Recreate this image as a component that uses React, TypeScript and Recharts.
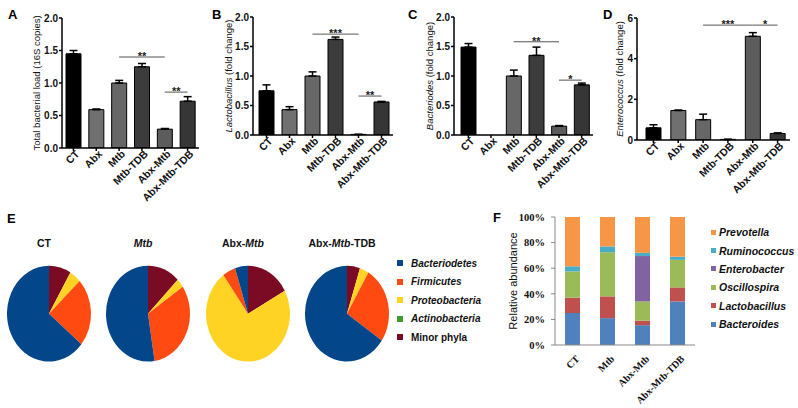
import React from "react";
import {
  BarChart,
  Bar,
  XAxis,
  YAxis,
  ErrorBar,
  Cell,
  ReferenceLine,
  PieChart,
  Pie,
} from "recharts";

const SANS = "'Liberation Sans', Arial, sans-serif";
const SERIF = "'Liberation Serif', 'Times New Roman', serif";

// panels A-D: qPCR groups
const groups = ["CT", "Abx", "Mtb", "Mtb-TDB", "Abx-Mtb", "Abx-Mtb-TDB"];
const groupFills = ["#000000", "#707070", "#676767", "#3c3c3c", "#5c5c5c", "#363636"];

const totalLoad = [1.45, 0.59, 1.0, 1.25, 0.29, 0.72];
const totalLoadErr = [0.05, 0.01, 0.04, 0.05, 0.01, 0.07];
const lactoFold = [0.75, 0.43, 1.0, 1.62, 0.01, 0.56];
const lactoErr = [0.1, 0.05, 0.07, 0.04, 0, 0.01];
const bacteroidesFold = [1.49, 0, 1.0, 1.35, 0.15, 0.85];
const bacteroidesErr = [0.06, 0, 0.1, 0.14, 0.01, 0.03];
const enteroFold = [0.6, 1.45, 1.0, 0.03, 5.1, 0.32];
const enteroErr = [0.15, 0.02, 0.27, 0, 0.18, 0.03];

type Sig = { from: string; to: string; y: number; stars: string };
const totalLoadSig: Sig[] = [
  { from: "Mtb", to: "Abx-Mtb", y: 1.4, stars: "**" },
  { from: "Abx-Mtb", to: "Abx-Mtb-TDB", y: 0.86, stars: "**" },
];
const lactoSig: Sig[] = [
  { from: "Mtb", to: "Abx-Mtb", y: 1.71, stars: "***" },
  { from: "Abx-Mtb", to: "Abx-Mtb-TDB", y: 0.66, stars: "**" },
];
const bacteroidesSig: Sig[] = [
  { from: "Mtb", to: "Abx-Mtb", y: 1.58, stars: "**" },
  { from: "Abx-Mtb", to: "Abx-Mtb-TDB", y: 0.93, stars: "*" },
];
const enteroSig: Sig[] = [
  { from: "Mtb", to: "Abx-Mtb", y: 5.65, stars: "***" },
  { from: "Abx-Mtb", to: "Abx-Mtb-TDB", y: 5.65, stars: "*" },
];

const twoTicks = [0, 0.5, 1.0, 1.5, 2.0];
const sixTicks = [0, 2, 4, 6];

// panel E: phyla pies
const phyla = ["Minor phyla", "Actinobacteria", "Proteobacteria", "Firmicutes", "Bacteriodetes"];
const phylaColors = ["#7b0a25", "#3f9b2c", "#ffd323", "#ff4a12", "#03468a"];
const pieTitles = ["CT", "Mtb", "Abx-Mtb", "Abx-Mtb-TDB"];
const ctPhyla = [8.5, 0, 4.5, 23, 64];
const mtbPhyla = [12.5, 0, 3, 32, 52.5];
const abxMtbPhyla = [17, 0, 73, 5, 5];
const abxMtbTdbPhyla = [5, 0, 3.5, 26, 65.5];
const pieCenters = [44, 143, 243, 342];

// panel F: genus stacks
const fGroups = ["CT", "Mtb", "Abx-Mtb", "Abx-Mtb-TDB"];
const genera = ["Bacteroides", "Lactobacillus", "Oscillospira", "Enterobacter", "Ruminococcus", "Prevotella"];
const generaColors = ["#4f81bd", "#c0504d", "#9bbb59", "#8064a2", "#4bacc6", "#f79646"];
const bacteroides = [25, 21, 15.5, 34];
const lactobacillus = [12, 17, 3.5, 11];
const oscillospira = [20.5, 34.5, 15, 21.5];
const enterobacter = [0, 0, 35.5, 0];
const ruminococcus = [4, 4.5, 2.5, 2.5];
const prevotella = [38.5, 23, 28, 31];
const pctTicks = [0, 20, 40, 60, 80, 100];

const SlantTick = (props: any) => {
  const { x, y, payload, family, size, dx = 4 } = props;
  const ax = x + dx;
  return (
    <text
      x={ax}
      y={y}
      dy="0.35em"
      textAnchor="end"
      transform={`rotate(-45 ${ax} ${y})`}
      fontFamily={family}
      fontSize={size}
      fontWeight="bold"
      fill="#111"
    >
      {payload.value}
    </text>
  );
};

const sideLabel = (italic: string, rest: string, gap: number, size: number) => (props: any) => {
  const vb = props.viewBox || { x: 0, y: 0, width: 0, height: 0 };
  const cx = vb.x + vb.width - gap;
  const cy = vb.y + vb.height / 2;
  return (
    <text
      x={cx}
      y={cy}
      transform={`rotate(-90 ${cx} ${cy})`}
      textAnchor="middle"
      dominantBaseline="central"
      fontFamily={SANS}
      fontSize={size}
      fill="#111"
    >
      {italic && <tspan fontStyle="italic">{italic}</tspan>}
      <tspan>{rest}</tspan>
    </text>
  );
};

type PanelProps = {
  values: number[];
  errors: number[];
  sig: Sig[];
  domain: [number, number];
  ticks: number[];
  decimals: number;
  italic: string;
  rest: string;
  left: number;
  width: number;
  axisX: number;
  plotTop: number;
  plotBottom: number;
  plotRight: number;
  padLeft: number;
  labelGap: number;
};

function FoldPanel(p: PanelProps) {
  const height = 205;
  const rows = groups.map((g, i) => ({ name: g, value: p.values[i], err: [0, p.errors[i]] }));
  return (
    <div style={{ position: "absolute", left: p.left, top: 0, width: p.width, height }}>
      <BarChart
        width={p.width}
        height={height}
        data={rows}
        margin={{ top: p.plotTop, right: p.left + p.width - p.plotRight, bottom: 0, left: 0 }}
      >
        <XAxis
          dataKey="name"
          interval={0}
          height={height - p.plotBottom}
          padding={{ left: p.padLeft, right: 0 }}
          stroke="#000"
          strokeWidth={1.5}
          tickSize={3}
          tickMargin={1}
          tick={(t: any) => <SlantTick {...t} family={SANS} size={10.5} />}
        />
        <YAxis
          width={p.axisX - p.left}
          domain={p.domain}
          ticks={p.ticks}
          interval={0}
          allowDataOverflow
          stroke="#000"
          strokeWidth={1.5}
          tickSize={3}
          tickMargin={1}
          tickFormatter={(v: number) => v.toFixed(p.decimals)}
          tick={{ fill: "#111", fontSize: 10, fontWeight: "bold", fontFamily: SANS }}
          label={sideLabel(p.italic, p.rest, p.labelGap, 9.5)}
        />
        <Bar dataKey="value" barSize={15} stroke="#000" strokeWidth={1} isAnimationActive={false}>
          {rows.map((r, i) => (
            <Cell key={r.name} fill={groupFills[i]} />
          ))}
          <ErrorBar dataKey="err" direction="y" width={4} stroke="#000" strokeWidth={1.5} isAnimationActive={false} />
        </Bar>
        {p.sig.map((s) => (
          <ReferenceLine
            key={s.from + s.to}
            segment={[
              { x: s.from, y: s.y },
              { x: s.to, y: s.y },
            ]}
            stroke="#555"
            strokeWidth={1}
            label={{
              value: s.stars,
              position: "top",
              offset: -3,
              fontSize: 11,
              fontWeight: "bold",
              fill: "#222",
              fontFamily: SANS,
            }}
          />
        ))}
      </BarChart>
    </div>
  );
}

const letterStyle = (left: number, top: number): React.CSSProperties => ({
  position: "absolute",
  left,
  top,
  fontFamily: SANS,
  fontWeight: "bold",
  fontSize: 13,
  lineHeight: "13px",
  color: "#000",
});

export default function App() {
  const pieSets = [ctPhyla, mtbPhyla, abxMtbPhyla, abxMtbTdbPhyla];
  const fRows = fGroups.map((g, i) => ({
    name: g,
    Bacteroides: bacteroides[i],
    Lactobacillus: lactobacillus[i],
    Oscillospira: oscillospira[i],
    Enterobacter: enterobacter[i],
    Ruminococcus: ruminococcus[i],
    Prevotella: prevotella[i],
  }));

  return (
    <div
      style={{
        position: "absolute",
        left: 0,
        top: 0,
        width: 798,
        height: 408,
        background: "#fff",
        overflow: "hidden",
        fontFamily: SANS,
      }}
    >
      <FoldPanel
        values={totalLoad}
        errors={totalLoadErr}
        sig={totalLoadSig}
        domain={[0, 2]}
        ticks={twoTicks}
        decimals={1}
        italic=""
        rest="Total bacterial load (16S copies)"
        left={0}
        width={205}
        axisX={62}
        plotTop={18}
        plotBottom={148}
        plotRight={199}
        padLeft={0}
        labelGap={26}
      />
      <FoldPanel
        values={lactoFold}
        errors={lactoErr}
        sig={lactoSig}
        domain={[0, 2]}
        ticks={twoTicks}
        decimals={1}
        italic="Lactobacillus"
        rest=" (fold change)"
        left={200}
        width={200}
        axisX={253}
        plotTop={17}
        plotBottom={135}
        plotRight={393}
        padLeft={2}
        labelGap={25}
      />
      <FoldPanel
        values={bacteroidesFold}
        errors={bacteroidesErr}
        sig={bacteroidesSig}
        domain={[0, 2]}
        ticks={twoTicks}
        decimals={1}
        italic="Bacteriodes"
        rest=" (fold change)"
        left={400}
        width={200}
        axisX={454}
        plotTop={17}
        plotBottom={135}
        plotRight={593}
        padLeft={3}
        labelGap={25}
      />
      <FoldPanel
        values={enteroFold}
        errors={enteroErr}
        sig={enteroSig}
        domain={[0, 6]}
        ticks={sixTicks}
        decimals={0}
        italic="Enterococcus"
        rest=" (fold change)"
        left={598}
        width={200}
        axisX={637}
        plotTop={18}
        plotBottom={140}
        plotRight={790}
        padLeft={4}
        labelGap={18}
      />

      <div style={letterStyle(8, 8)}>A</div>
      <div style={letterStyle(212, 8)}>B</div>
      <div style={letterStyle(408, 8)}>C</div>
      <div style={letterStyle(603, 8)}>D</div>
      <div style={letterStyle(7, 212)}>E</div>
      <div style={letterStyle(493, 211)}>F</div>

      {/* E: pie titles */}
      {pieTitles.map((t, i) => {
        const parts = t.split("Mtb");
        return (
          <div
            key={t}
            style={{
              position: "absolute",
              left: pieCenters[i] - 50,
              top: 236,
              width: 100,
              textAlign: "center",
              fontSize: 10.5,
              fontWeight: "bold",
              lineHeight: "14px",
              color: "#111",
            }}
          >
            {parts.length === 1 ? (
              t
            ) : (
              <>
                {parts[0]}
                <i>Mtb</i>
                {parts[1]}
              </>
            )}
          </div>
        );
      })}

      <div
        style={{
          position: "absolute",
          left: 0,
          top: 252.5,
          width: 400,
          height: 110,
          transform: "scaleY(1.14)",
          transformOrigin: "50% 50%",
        }}
      >
        <PieChart width={400} height={110}>
          {pieSets.map((set, k) => (
            <Pie
              key={pieTitles[k]}
              data={phyla.map((name, i) => ({ name, value: set[i] }))}
              dataKey="value"
              nameKey="name"
              cx={pieCenters[k]}
              cy={55}
              outerRadius={42}
              startAngle={90}
              endAngle={-270}
              stroke="none"
              isAnimationActive={false}
            >
              {phyla.map((name, i) => (
                <Cell key={name} fill={phylaColors[i]} />
              ))}
            </Pie>
          ))}
        </PieChart>
      </div>

      {/* E: legend (listed top to bottom) */}
      <div style={{ position: "absolute", left: 397, top: 254 }}>
        {[...phyla].reverse().map((name) => {
          const i = phyla.indexOf(name);
          return (
            <div key={name} style={{ display: "flex", alignItems: "center", height: 18.5 }}>
              <span style={{ width: 6, height: 6, background: phylaColors[i], display: "inline-block" }} />
              <span
                style={{
                  marginLeft: 8,
                  fontSize: 10,
                  fontWeight: "bold",
                  fontStyle: name === "Minor phyla" ? "normal" : "italic",
                  color: "#111",
                }}
              >
                {name}
              </span>
            </div>
          );
        })}
      </div>

      {/* F: stacked genera */}
      <div style={{ position: "absolute", left: 470, top: 200, width: 235, height: 208 }}>
        <BarChart width={235} height={208} data={fRows} margin={{ top: 17, right: 10, bottom: 0, left: 0 }}>
          <XAxis
            dataKey="name"
            interval={0}
            height={63}
            stroke="#888"
            tickLine={false}
            tickMargin={6}
            tick={(t: any) => <SlantTick {...t} family={SERIF} size={10} dx={5} />}
          />
          <YAxis
            width={85}
            domain={[0, 100]}
            ticks={pctTicks}
            interval={0}
            stroke="#888"
            tickSize={4}
            tickMargin={6}
            tickFormatter={(v: number) => `${v}%`}
            tick={{ fill: "#111", fontSize: 10.5, fontWeight: "bold", fontFamily: SERIF }}
            label={sideLabel("", "Relative abundance", 42, 11)}
          />
          {genera.map((g, i) => (
            <Bar key={g} dataKey={g} stackId="f" barSize={15} fill={generaColors[i]} isAnimationActive={false} />
          ))}
        </BarChart>
      </div>

      {/* F: legend (top of stack first) */}
      <div style={{ position: "absolute", left: 711, top: 223 }}>
        {[...genera].reverse().map((name) => {
          const i = genera.indexOf(name);
          return (
            <div key={name} style={{ display: "flex", alignItems: "center", height: 18.4 }}>
              <span style={{ width: 5, height: 5, background: generaColors[i], display: "inline-block" }} />
              <span
                style={{ marginLeft: 3, fontSize: 10.5, fontWeight: "bold", fontStyle: "italic", color: "#111" }}
              >
                {name}
              </span>
            </div>
          );
        })}
      </div>
    </div>
  );
}
